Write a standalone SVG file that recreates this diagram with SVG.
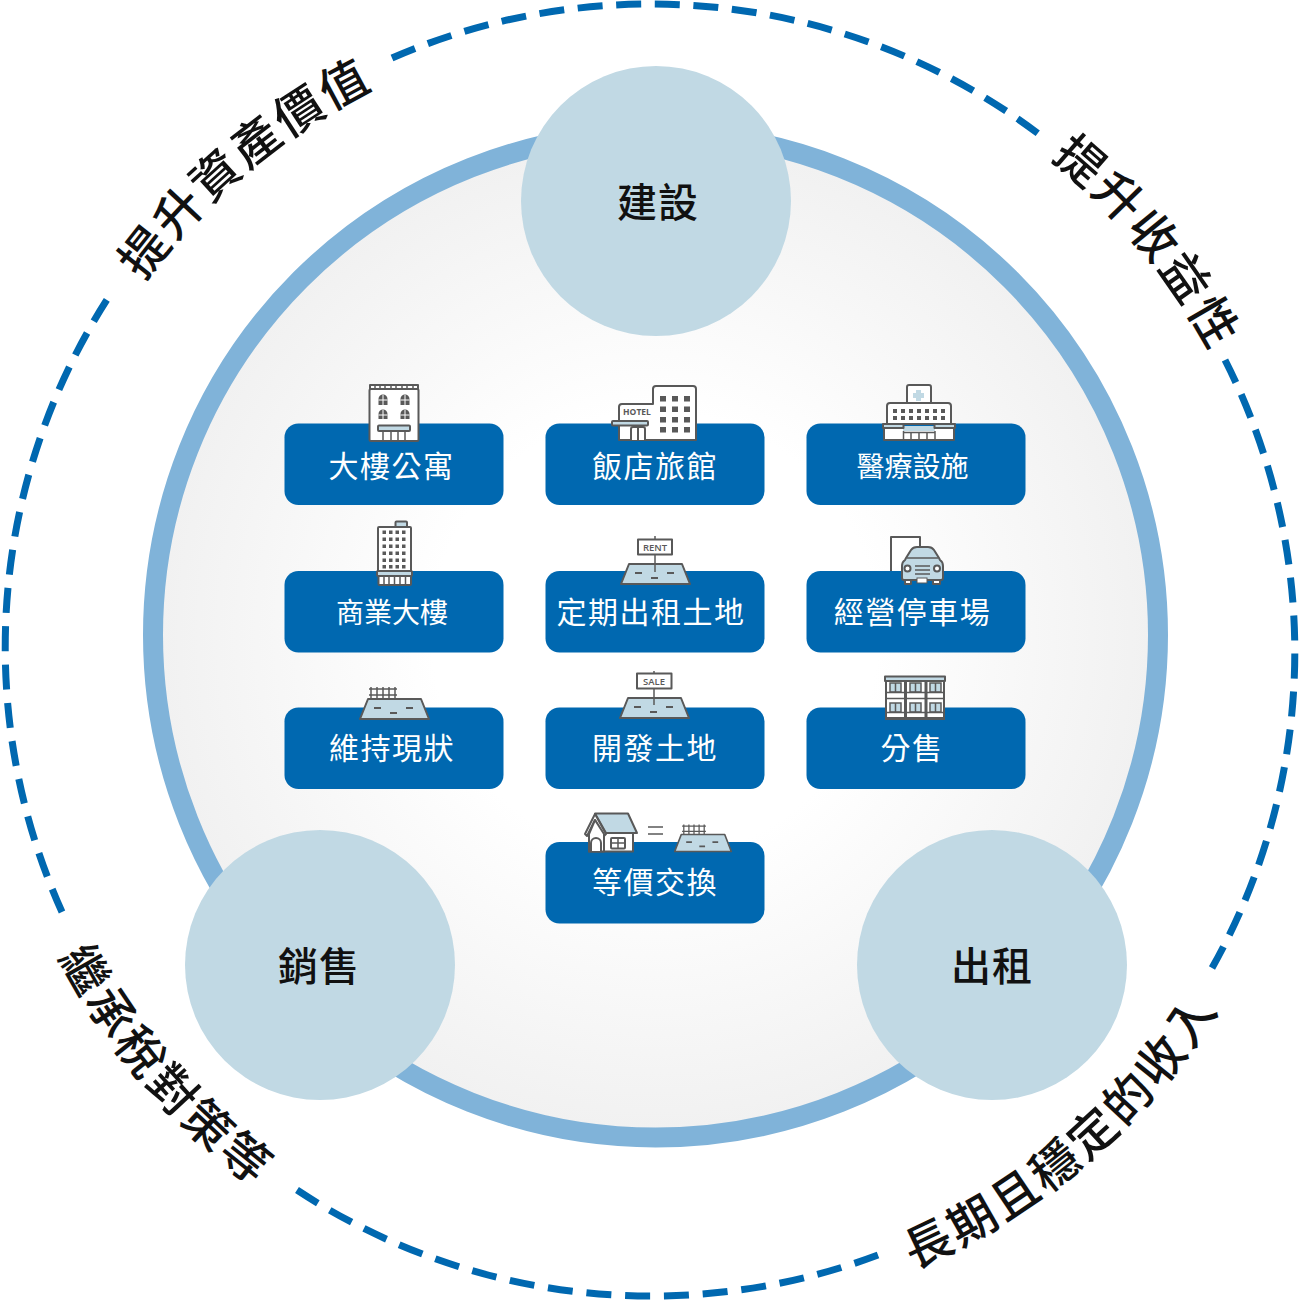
<svg xmlns="http://www.w3.org/2000/svg" xmlns:xlink="http://www.w3.org/1999/xlink" width="1301" height="1301" viewBox="0 0 1301 1301">
<style>
text{font-family:"Noto Sans CJK TC","Noto Sans CJK SC","Noto Sans",sans-serif}
.box{fill:#0068b0}
.lbl{fill:#fff;font-size:30px;text-anchor:middle;letter-spacing:1.500px}
.lbl28{font-size:28px;letter-spacing:0}
.hub{fill:#c1d9e4}
.hubt{fill:#111;font-size:40px;font-weight:500;text-anchor:middle;letter-spacing:1px}
.arc{fill:#111;font-size:48px;font-weight:500;text-anchor:middle;letter-spacing:3px}
.dash{fill:none;stroke:#0068b0;stroke-width:7;stroke-dasharray:25 13.600}
.i{fill:#fff;stroke:#595959;stroke-width:2;stroke-linejoin:round}
.a{fill:#c1d9e4;stroke:#595959;stroke-width:2;stroke-linejoin:round}
.l{fill:none;stroke:#595959;stroke-width:1.500}
.w{fill:#595959}
.s{fill:#595959;font-family:"Open Sans","Liberation Sans",sans-serif;font-weight:600;text-anchor:middle}
</style>
<defs>
<radialGradient id="disk" cx="655" cy="635" r="495" gradientUnits="userSpaceOnUse"><stop offset="0.45" stop-color="#fff"/><stop offset="1" stop-color="#f1f1f1"/></radialGradient>
<path id="arcTop" d="M385.400 82.700A626 626 0 0 1 914.600 82.700"/>
<path id="arcBot" d="M366.700 1257.800A671 671 0 0 0 933.300 1257.800"/>
<g id="land">
<path class="a" d="M-26.500 0H26.500L34.500 20H-34.500Z"/>
<path d="M-20.500 9h7M11.500 9h7M-4.500 14h7" stroke="#595959" stroke-width="2.200" fill="none"/>
</g>
<g id="fence"><path class="l" d="M-14 2H14M-14 8H14M-12 0V13M-6 0V13M0 0V13M6 0V13M12 0V13" stroke-width="2"/></g>
</defs>

<g id="connectors">
<path class="dash" d="M392 58A645 645 0 0 1 1040 135"/>
<path class="dash" style="stroke-dasharray:25 13.060" d="M1225 360A645 645 0 0 1 1212 968"/>
<path class="dash" style="stroke-dasharray:25 13.800" d="M878 1255A645 645 0 0 1 297 1190"/>
<path class="dash" style="stroke-dasharray:25 13.400" d="M62 912A645 645 0 0 1 110 295"/>
</g>

<g id="ring"><circle cx="655.500" cy="635" r="502.500" fill="url(#disk)" stroke="#80b3d9" stroke-width="20"/></g>

<g id="arc-labels">
<text class="arc" transform="rotate(-40 650 650)"><textPath href="#arcTop" xlink:href="#arcTop" startOffset="50%">提升資產價值</textPath></text>
<text class="arc" transform="translate(8 -4) rotate(50.500 650 650)"><textPath href="#arcTop" xlink:href="#arcTop" startOffset="50%">提升收益性</textPath></text>
<text class="arc" transform="translate(1 2) rotate(-40.500 650 650)"><textPath href="#arcBot" xlink:href="#arcBot" startOffset="50%">長期且穩定的收入</textPath></text>
<text class="arc" transform="translate(4 -2) rotate(49.500 650 650)"><textPath href="#arcBot" xlink:href="#arcBot" startOffset="50%">繼承稅對策等</textPath></text>
</g>

<g id="hub-build"><circle class="hub" cx="656" cy="201" r="135"/><text class="hubt" x="658" y="217">建設</text></g>
<g id="hub-sell"><circle class="hub" cx="320" cy="965" r="135"/><text class="hubt" x="319" y="981">銷售</text></g>
<g id="hub-rent"><circle class="hub" cx="992" cy="965" r="135"/><text class="hubt" x="992" y="981">出租</text></g>

<g id="n-apartment"><rect class="box" x="284.500" y="423.500" width="219" height="81.500" rx="14"/>
<path class="i" d="M370 385H418V389H370Z"/><path class="l" d="M375 385v4M380 385v4M385 385v4M391 385v4M396 385v4M402 385v4M407 385v4M413 385v4"/>
<rect class="i" x="369.500" y="389" width="49" height="52" rx="1.500"/>
<g class="w"><path d="M378.500 405v-6a4.500 4.500 0 0 1 9 0v6zM400.500 405v-6a4.500 4.500 0 0 1 9 0v6zM378.500 419v-5a4.500 4.500 0 0 1 9 0v5zM400.500 419v-5a4.500 4.500 0 0 1 9 0v5z"/></g>
<path d="M378.500 400h9M383 395v10M400.500 400h9M405 395v10M378.500 415h9M383 410v9M400.500 415h9M405 410v9" stroke="#fff" stroke-width="1"/>
<rect class="a" x="378" y="425.500" width="32" height="5.500" rx="1"/>
<path class="l" d="M383 431v10M391 431v10M398 431v10M405 431v10"/>
<text class="lbl" x="391.500" y="477">大樓公寓</text></g>

<g id="n-hotel"><rect class="box" x="545.500" y="423.500" width="219" height="81.500" rx="14"/>
<path class="i" d="M619 407q0-3 3-3H653V389q0-3 3-3H693q3 0 3 3V440H619Z"/>
<g class="w"><rect x="660" y="396" width="6" height="5.500"/><rect x="672" y="396" width="6" height="5.500"/><rect x="684" y="396" width="6" height="5.500"/><rect x="660" y="406.500" width="6" height="5.500"/><rect x="672" y="406.500" width="6" height="5.500"/><rect x="684" y="406.500" width="6" height="5.500"/><rect x="660" y="417" width="6" height="5.500"/><rect x="672" y="417" width="6" height="5.500"/><rect x="684" y="417" width="6" height="5.500"/><rect x="660" y="427" width="6" height="5.500"/><rect x="672" y="427" width="6" height="5.500"/><rect x="684" y="427" width="6" height="5.500"/></g>
<text class="s" x="637" y="414.500" font-size="8.500" style="font-weight:700">HOTEL</text>
<rect class="a" x="612" y="421" width="36" height="4.500" rx="1"/>
<path class="i" d="M631 440V429q0-2 2-2H643q2 0 2 2V440M638 427V440"/>
<text class="lbl" x="655" y="477">飯店旅館</text></g>

<g id="n-hospital"><rect class="box" x="806.500" y="423.500" width="219" height="81.500" rx="14"/>
<path class="i" d="M907 404V387q0-2 2-2H929q2 0 2 2V404"/>
<path fill="#c1d9e4" d="M916 390h5v3h3v5h-3v3h-5v-3h-3v-5h3z"/>
<path class="i" d="M887 424V406q0-3 3-3H948q3 0 3 3V424Z"/>
<path d="M893 409h4v4h-4zM901 409h4v4h-4zM909 409h4v4h-4zM917 409h4v4h-4zM925 409h4v4h-4zM933 409h4v4h-4zM941 409h4v4h-4zM893 416h4v4h-4zM901 416h4v4h-4zM909 416h4v4h-4zM917 416h4v4h-4zM925 416h4v4h-4zM933 416h4v4h-4zM941 416h4v4h-4z" fill="#595959"/>
<rect class="i" x="884" y="427" width="70" height="13"/>
<rect x="903" y="426" width="32" height="5" fill="#c1d9e4"/>
<rect class="a" x="883" y="424" width="20.500" height="4"/><rect class="a" x="934.500" y="424" width="20.500" height="4"/>
<path class="l" d="M903.500 431v9M911 433v7M919 433v7M927 433v7M935 431v9M903.500 432.500H935"/>
<text class="lbl lbl28" x="912.500" y="477">醫療設施</text></g>

<g id="n-office"><rect class="box" x="284.500" y="571" width="219" height="81.500" rx="14"/>
<rect class="a" x="395.500" y="521.500" width="11.500" height="6" rx="1"/>
<rect class="i" x="378" y="527" width="33" height="45" rx="1"/>
<path fill="#595959" d="M382.500 530.500h3.500v3.500h-3.500zM389 530.500h3.500v3.500h-3.500zM395.500 530.500h3.500v3.500h-3.500zM402 530.500h3.500v3.500h-3.500zM382.500 537.500h3.500v3.500h-3.500zM389 537.500h3.500v3.500h-3.500zM395.500 537.500h3.500v3.500h-3.500zM402 537.500h3.500v3.500h-3.500zM382.500 544.500h3.500v3.500h-3.500zM389 544.500h3.500v3.500h-3.500zM395.500 544.500h3.500v3.500h-3.500zM402 544.500h3.500v3.500h-3.500zM382.500 551.500h3.500v3.500h-3.500zM389 551.500h3.500v3.500h-3.500zM395.500 551.500h3.500v3.500h-3.500zM402 551.500h3.500v3.500h-3.500zM382.500 558.500h3.500v3.500h-3.500zM389 558.500h3.500v3.500h-3.500zM395.500 558.500h3.500v3.500h-3.500zM402 558.500h3.500v3.500h-3.500zM382.500 565h3.500v3.500h-3.500zM389 565h3.500v3.500h-3.500zM395.500 565h3.500v3.500h-3.500zM402 565h3.500v3.500h-3.500z"/>
<rect class="i" x="378.500" y="576" width="32.500" height="9" rx="1"/>
<rect class="a" x="377" y="571" width="35" height="5" rx="1"/>
<path class="l" d="M384 576v9M389 576v9M394.500 576v9M400 576v9M405.500 576v9"/>
<text class="lbl lbl28" x="392" y="623">商業大樓</text></g>

<g id="n-rentland"><rect class="box" x="545.500" y="571" width="219" height="81.500" rx="14"/>
<use href="#land" xlink:href="#land" transform="translate(655.500 564)"/>
<path class="l" d="M655 536V572" stroke-width="2"/>
<rect class="i" x="638" y="539.500" width="34" height="15"/>
<text class="s" x="655" y="551" font-size="9.500">RENT</text>
<text class="lbl" x="651" y="623">定期出租土地</text></g>

<g id="n-parking"><rect class="box" x="806.500" y="571" width="219" height="81.500" rx="14"/>
<path class="i" d="M891 571V537H920V550"/>
<path class="i" d="M905 580H911V584H905ZM933 580H940V584H933Z"/>
<path class="a" d="M902 578V566q0-4 3-6l1-2 5-8q2-3 6-3H928q4 0 6 3l5 8 1 2q3 2 3 6V578q0 2-2 2H904q-2 0-2-2Z"/>
<path class="l" d="M907 558H938M915 566H930M915 570H930M915 574H930"/>
<circle class="i" cx="907.500" cy="568.500" r="3"/><circle class="i" cx="937" cy="568.500" r="3"/>
<rect x="917" y="578" width="10" height="5" fill="#fff" stroke="#595959" stroke-width="1"/>
<text class="lbl" x="912.500" y="623">經營停車場</text></g>

<g id="n-keep"><rect class="box" x="284.500" y="707.500" width="219" height="81.500" rx="14"/>
<use href="#fence" xlink:href="#fence" transform="translate(383 687)"/>
<use href="#land" xlink:href="#land" transform="translate(394.500 699)"/>
<text class="lbl" x="392" y="759">維持現狀</text></g>

<g id="n-devland"><rect class="box" x="545.500" y="707.500" width="219" height="81.500" rx="14"/>
<use href="#land" xlink:href="#land" transform="translate(654.500 698)"/>
<path class="l" d="M654 671V705" stroke-width="2"/>
<rect class="i" x="637" y="673.500" width="34.500" height="15"/>
<text class="s" x="654" y="685" font-size="9.500">SALE</text>
<text class="lbl" x="655" y="759">開發土地</text></g>

<g id="n-sale"><rect class="box" x="806.500" y="707.500" width="219" height="81.500" rx="14"/>
<rect class="i" x="886" y="681" width="58" height="37"/>
<rect class="a" x="885" y="676.500" width="60" height="4.500"/>
<path fill="#c1d9e4" stroke="#595959" stroke-width="1.500" d="M890 683h11v9h-11zM910 683h11v9h-11zM930 683h11v9h-11zM890 703h11v9h-11zM910 703h11v9h-11zM930 703h11v9h-11z"/>
<path class="l" d="M895.500 683v9M915.500 683v9M935.500 683v9M895.500 703v9M915.500 703v9M935.500 703v9M885 692.500H945M885 698.500H945M885 712.500H945"/>
<path d="M905.500 681V720M926 681V720M885 718.500H945" stroke="#595959" stroke-width="3"/>
<text class="lbl" x="912" y="759">分售</text></g>

<g id="n-exchange"><rect class="box" x="545.500" y="842" width="219" height="81.500" rx="14"/>
<rect class="i" x="589" y="832" width="44" height="19.500"/>
<path class="a" d="M595 813.500H628L637 833H606Z"/>
<path class="i" d="M585 834L595 814L606 834L604 836L595 820L587 836Z"/>
<path class="i" d="M589 834V851.500H604V834L595 820Z"/>
<path class="i" d="M591 851V843a5 5 0 0 1 10 0V851"/>
<rect class="i" x="611" y="838" width="14" height="10.500" rx="1"/>
<path class="l" d="M618 838v10.500M611 843h14"/>
<path class="l" d="M648 827H663M648 834H663"/>
<use href="#fence" xlink:href="#fence" transform="translate(694 824.500) scale(.85)"/>
<use href="#land" xlink:href="#land" transform="translate(703 834.500) scale(.82 .85)"/>
<text class="lbl" x="655" y="893">等價交換</text></g>
</svg>
